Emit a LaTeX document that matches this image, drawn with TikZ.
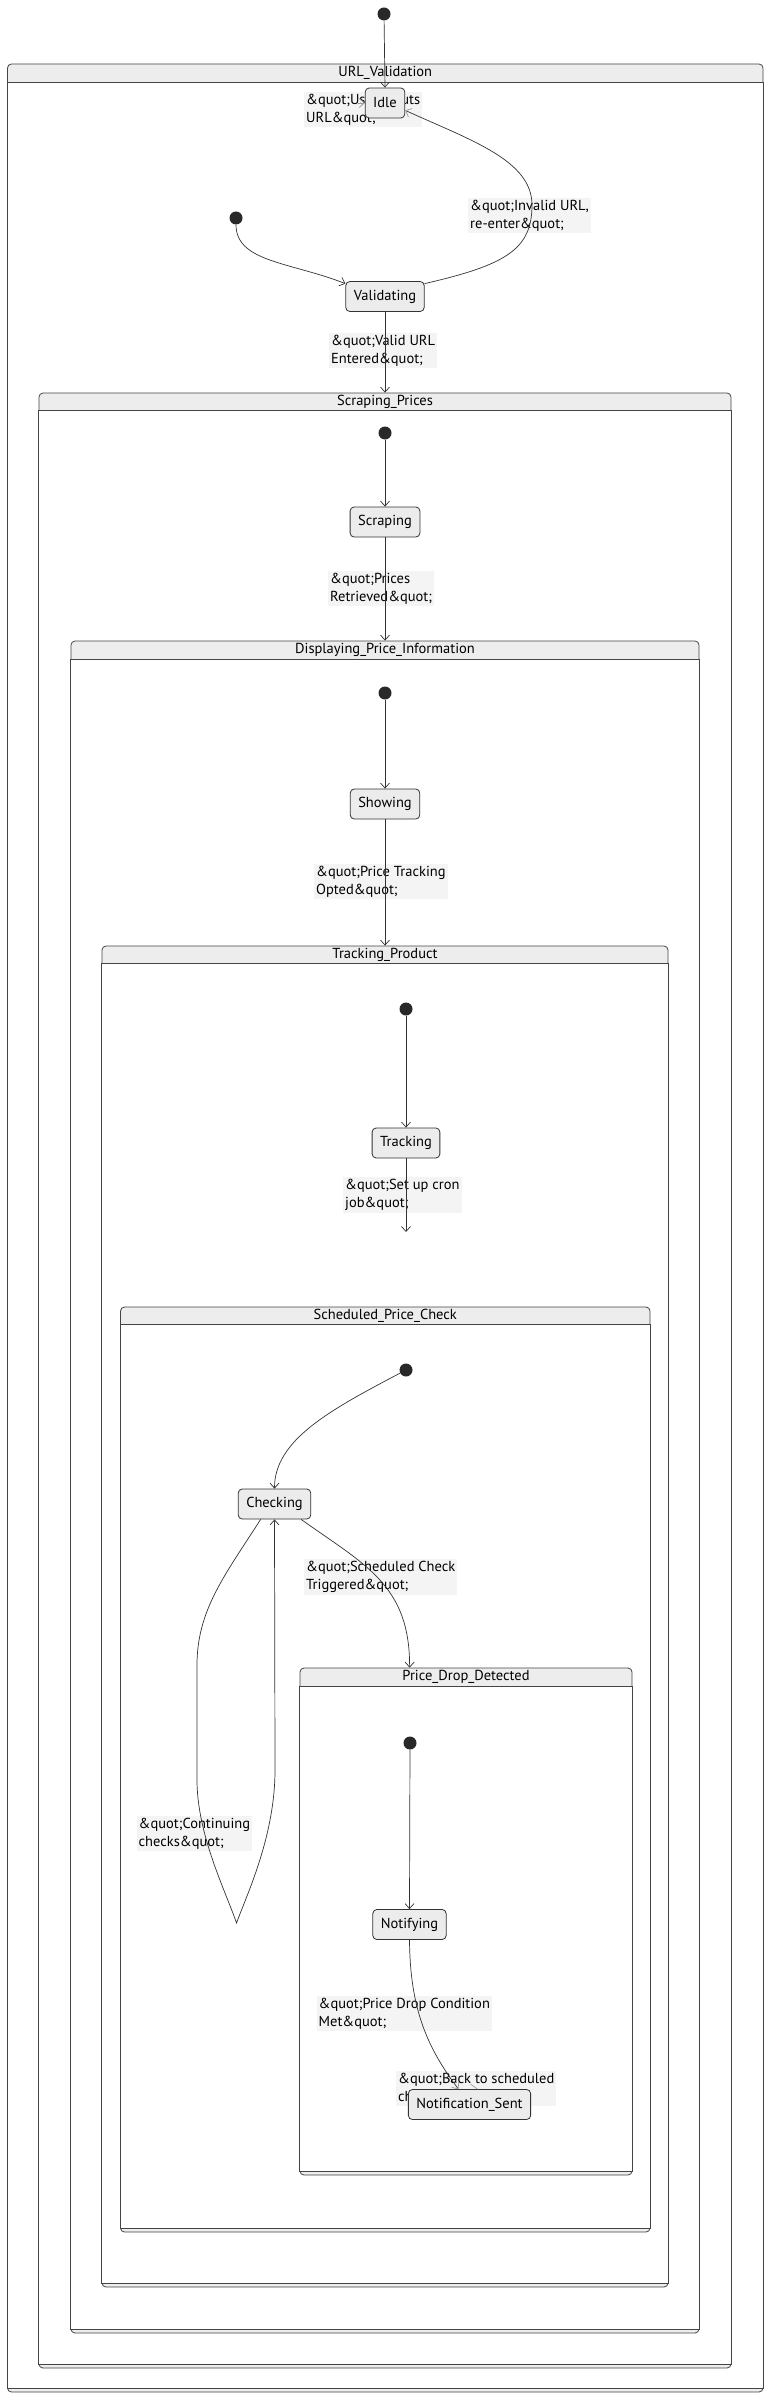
\documentclass[tikz,border=0pt]{standalone}
\usepackage{fontspec}
\setmainfont{PT Sans}
\usepackage{tikz}
\usetikzlibrary{arrows.meta, positioning, fit, calc, backgrounds}
\definecolor{edgedark}{HTML}{333333}
\definecolor{framegray}{HTML}{444444}
\definecolor{headgray}{HTML}{EDEDED}
\definecolor{statefill}{HTML}{ECECEC}
\definecolor{tagfill}{HTML}{F4F4F4}
\tikzset{
  statebox/.style={
    draw=edgedark, rounded corners=4pt, fill=statefill, line width=0.8pt,
    minimum height=30pt, inner xsep=8pt, font=\fontsize{14.5}{18}\selectfont
  },
  compbox/.style={
    draw=framegray, fill=headgray, rounded corners=4pt, inner sep=0pt,
    line width=0.8pt
  },
  compinner/.style={draw=framegray, fill=white, line width=0.8pt},
  comptitle/.style={font=\fontsize{14.5}{18}\selectfont, inner sep=0pt},
  startdot/.style={
    circle, fill=edgedark!80!black, minimum size=13pt, inner sep=0pt
  },
  statearrow/.style={
    -{Straight Barb[length=5pt, width=9pt]}, draw=edgedark, line width=0.7pt
  },
  fadearrow/.style={
    -{Straight Barb[length=5pt, width=9pt, color=gray!80]}, draw=edgedark,
    line width=0.7pt
  },
  statelabel/.style={
    fill=tagfill, align=left, anchor=north west, inner sep=2pt,
    font=\fontsize{14.5}{18}\selectfont
  },
}

\begin{document}
\begin{tikzpicture}[x=1pt, y=-1pt]
  \useasboundingbox (0,0) rectangle (768,2400);

  % States
  \node[startdot] (topdot) at (384,14) {};
  \node[statebox] (idle) at (385,103) {Idle};
  \node[startdot] (urldot) at (236,218) {};
  \node[statebox] (validating) at (385,296.5) {Validating};
  \node[startdot] (scrapedot) at (385,433) {};
  \node[statebox] (scraping) at (385,522) {Scraping};
  \node[startdot] (showdot) at (385,693) {};
  \node[statebox] (showing) at (385,804) {Showing};
  \node[startdot] (trackdot) at (406,1009) {};
  \node[statebox] (tracking) at (406,1143) {Tracking};
  \coordinate (cronend) at (406,1232);
  \node[startdot] (checkdot) at (406,1370) {};
  \node[statebox] (checking) at (274.5,1504) {Checking};
  \node[startdot] (notifydot) at (410,1743) {};
  \node[statebox] (notifying) at (409.5,1924.5) {Notifying};
  \node[statebox] (notifsent) at (469.5,2104.5) {Notification\_Sent};

  \begin{scope}[on background layer]
    % Composite states
    \node[compbox, fit={(7.5,64) (763,2392)}] (urlval) {};
    \draw[compinner] ($(urlval.north west)+(0,19)$) rectangle ($(urlval.south east)+(0,-4)$);
    \node[compbox, fit={(39,393) (731,2368)}] (scrapeprices) {};
    \draw[compinner] ($(scrapeprices.north west)+(0,18)$) rectangle ($(scrapeprices.south east)+(0,-4)$);
    \node[compbox, fit={(71,641) (699,2333)}] (displayinfo) {};
    \draw[compinner] ($(displayinfo.north west)+(0,19)$) rectangle ($(displayinfo.south east)+(0,-4)$);
    \node[compbox, fit={(102,946) (668,2287)}] (trackproduct) {};
    \draw[compinner] ($(trackproduct.north west)+(0,18)$) rectangle ($(trackproduct.south east)+(0,-4)$);
    \node[compbox, fit={(120.5,1307) (650,2232)}] (schedcheck) {};
    \draw[compinner] ($(schedcheck.north west)+(0,18)$) rectangle ($(schedcheck.south east)+(0,-4)$);
    \node[compbox, fit={(300,1668) (632,2175)}] (pricedrop) {};
    \draw[compinner] ($(pricedrop.north west)+(0,19)$) rectangle ($(pricedrop.south east)+(0,-4)$);

    % Transition labels
    \node[statelabel] (lbluser) at (304,92) {\&quot;User inputs\\URL\&quot;};
    \node[statelabel] (lblinvalid) at (468,198) {\&quot;Invalid URL,\\re-enter\&quot;};
    \node[statelabel] (lblvalid) at (329,333) {\&quot;Valid URL\\Entered\&quot;};
    \node[statelabel] (lblprices) at (328,571) {\&quot;Prices\\Retrieved\&quot;};
    \node[statelabel] (lblopted) at (314,864) {\&quot;Price Tracking\\Opted\&quot;};
    \node[statelabel] (lblcron) at (343,1177) {\&quot;Set up cron\\job\&quot;};
    \node[statelabel] (lbltrigger) at (304,1559) {\&quot;Scheduled Check\\Triggered\&quot;};
    \node[statelabel] (lblcontinue) at (136.5,1816) {\&quot;Continuing\\checks\&quot;};
    \node[statelabel] (lblcondition) at (316.5,1996) {\&quot;Price Drop Condition\\Met\&quot;};
    \node[statelabel] (lblback) at (396,2071) {\&quot;Back to scheduled\\checks\&quot;};
  \end{scope}

  % Composite titles
  \node[comptitle] (urlvaltitle) at ($(urlval.north)+(0,9.5)$) {URL\_Validation};
  \node[comptitle] (scrapetitle) at ($(scrapeprices.north)+(0,9)$) {Scraping\_Prices};
  \node[comptitle] (displaytitle) at ($(displayinfo.north)+(0,9.5)$) {Displaying\_Price\_Information};
  \node[comptitle] (tracktitle) at ($(trackproduct.north)+(0,9)$) {Tracking\_Product};
  \node[comptitle] (schedtitle) at ($(schedcheck.north)+(0,9)$) {Scheduled\_Price\_Check};
  \node[comptitle] (droptitle) at ($(pricedrop.north)+(0,9.5)$) {Price\_Drop\_Detected};

  % Transitions
  \draw[statearrow] (topdot) -- (idle.north);
  \draw[fadearrow, draw=gray!80] ($(idle.west)+(-7,0)$) -- (idle.west);
  \draw[statearrow] (urldot.south) .. controls (236,262) and (290,262) .. (validating.162);
  \draw[fadearrow] (validating.18) .. controls (505,265) and (532,250) .. (532,205)
    .. controls (532,160) and (470,140) .. (idle.-20);
  \draw[statearrow] (validating.south) -- (scrapeprices.north);
  \draw[statearrow] (scrapedot) -- (scraping.north);
  \draw[statearrow] (scraping.south) -- (displayinfo.north);
  \draw[statearrow] (showdot) -- (showing.north);
  \draw[statearrow] (showing.south) -- (trackproduct.north);
  \draw[statearrow] (trackdot) -- (tracking.north);
  \draw[statearrow] (tracking.south) -- (cronend);
  \draw[statearrow] (checkdot) .. controls (330,1410) and (274.5,1440) .. (checking.north);
  \draw[statearrow] (checking.-30) .. controls (365,1565) and (410,1585) .. ($(pricedrop.north west)+(110,0)$);
  \draw[statearrow] (checking.-132) .. controls (225,1575) and (197,1610) .. (197,1665)
    -- (197,1780) .. controls (197,1835) and (226,1892) .. (236.5,1923)
    .. controls (248,1892) and (275,1835) .. (275,1770) -- (checking.south);
  \draw[statearrow] (notifydot) -- (notifying.north);
  \draw[fadearrow] (notifying.south) .. controls (410,2005) and (425,2045) .. ($(notifsent.north)+(-11,0)$);
  \draw[gray!80, line width=0.7pt] ($(notifsent.north)+(1,-5)$) -- ($(notifsent.north)+(8,0)$);
\end{tikzpicture}
\end{document}
